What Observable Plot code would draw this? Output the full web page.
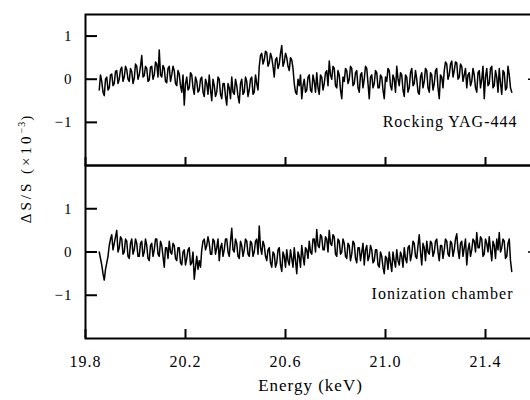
<!DOCTYPE html>
<html><head><meta charset="utf-8">
<script src="https://cdn.jsdelivr.net/npm/d3@7"></script>
<script src="https://cdn.jsdelivr.net/npm/@observablehq/plot@0.6"></script>
<style>
html,body{margin:0;padding:0;background:#fff;overflow:hidden;}
#chart{position:relative;width:530px;height:400px;font-family:'Liberation Serif','DejaVu Serif',serif;color:#000;}
#chart svg{position:absolute;left:0;}
#ytitle{position:absolute;left:25px;top:168px;transform:translate(-50%,-50%) rotate(-90deg);white-space:nowrap;font-size:15px;letter-spacing:3px;line-height:1;}
#ytitle sup{font-size:10px;letter-spacing:1px;}
</style></head><body><div id="chart"><div id="ytitle">ΔS/S (×10<sup>−3</sup>)</div></div>
<script>
// ---- data ----
const energyStart = 19.855;   // keV, first sample
const energyStep = 0.005;     // keV per sample
const rockingYAG = [
 -0.25,0.1,-0.05,-0.3,-0.38,0.0,0.05,-0.25,-0.2,0.1,0.12,-0.15,-0.1,0.18,0.2,-0.1,0.0,0.22,0.28,-0.05,
 0.05,0.3,0.22,0.0,-0.05,0.25,0.18,-0.1,0.02,0.35,0.3,0.0,0.1,0.3,0.55,0.05,0.08,0.3,0.25,-0.05,
 -0.02,0.28,0.3,0.0,0.1,0.4,0.35,0.05,0.68,0.1,0.05,0.32,0.25,-0.05,-0.08,0.25,0.3,-0.05,0.1,0.3,
 0.2,-0.1,-0.15,0.2,0.12,-0.15,-0.3,0.1,-0.6,-0.1,0.05,-0.25,-0.2,0.15,0.1,-0.2,-0.35,0.05,-0.05,-0.3,
 -0.25,0.0,0.05,-0.3,-0.4,0.0,-0.1,-0.35,0.1,-0.25,-0.5,0.0,-0.15,-0.4,-0.3,0.05,0.0,-0.35,-0.45,-0.1,
 -0.1,-0.4,-0.6,-0.1,-0.2,-0.45,0.05,-0.3,-0.35,0.0,-0.15,-0.4,-0.55,-0.1,0.0,-0.35,-0.3,0.05,-0.05,-0.4,
 -0.25,0.0,0.05,-0.35,-0.3,0.1,-0.1,-0.25,0.3,0.55,0.6,0.35,0.45,0.65,0.62,0.3,0.38,0.6,0.5,0.3,
 0.05,0.45,0.5,0.25,0.35,0.6,0.78,0.3,0.4,0.6,0.5,0.3,0.2,0.5,0.45,0.25,-0.1,-0.3,-0.35,0.0,
 -0.15,0.1,-0.45,-0.15,0.0,-0.3,-0.25,0.05,0.1,-0.25,-0.3,0.1,-0.05,-0.3,0.15,-0.2,-0.35,0.1,0.05,-0.25,
 -0.1,0.15,0.2,-0.15,0.42,0.1,0.0,0.3,0.25,-0.15,-0.2,0.2,0.1,-0.25,-0.45,0.05,-0.05,0.25,0.2,-0.1,
 0.0,0.3,0.25,-0.15,-0.1,0.15,0.2,-0.2,-0.3,0.1,0.15,-0.2,0.0,0.3,0.25,-0.1,-0.45,0.05,0.1,-0.2,
 -0.1,0.2,0.15,-0.2,-0.2,0.1,0.05,-0.25,-0.45,0.05,-0.05,0.25,0.2,-0.15,-0.25,0.1,0.0,-0.3,0.3,0.0,
 -0.15,0.15,0.1,-0.25,-0.4,0.1,0.05,-0.3,-0.2,0.15,0.25,-0.15,-0.1,0.2,0.0,-0.3,-0.35,0.05,0.15,-0.2,
 -0.05,0.25,0.2,-0.2,-0.3,0.15,0.1,-0.25,-0.1,0.2,0.25,-0.2,-0.45,0.1,0.05,-0.2,0.2,0.4,0.35,0.0,
 0.1,0.35,0.42,0.05,0.2,0.4,0.38,0.0,0.05,0.35,0.3,-0.05,0.1,0.25,-0.2,0.1,0.15,-0.15,-0.05,0.25,
 0.1,-0.2,-0.3,0.15,0.2,-0.2,0.0,0.3,-0.45,0.05,0.25,-0.15,-0.1,0.25,0.3,-0.2,-0.15,0.2,0.05,-0.3,
 0.25,-0.1,-0.35,0.2,0.15,-0.25,-0.2,0.3,0.1,-0.2,-0.3
];
const ionChamber = [
 0.0,-0.15,-0.3,-0.5,-0.65,-0.4,-0.25,-0.1,0.15,0.3,0.4,0.05,0.2,0.35,0.5,0.0,0.1,0.35,0.3,-0.05,
 0.0,0.3,0.25,-0.1,-0.15,0.2,0.3,-0.05,0.05,0.3,0.2,-0.1,-0.1,0.2,0.25,-0.1,0.0,0.3,0.15,-0.15,
 -0.2,0.15,0.2,-0.1,0.05,0.3,0.3,-0.05,-0.1,0.25,0.15,-0.1,-0.35,0.1,0.1,-0.15,0.25,0.0,-0.05,0.2,
 0.15,-0.15,-0.2,0.1,0.1,-0.25,-0.3,0.0,0.05,-0.3,-0.15,0.05,0.1,-0.3,-0.25,0.0,-0.63,-0.35,-0.1,-0.4,
 -0.2,-0.35,0.05,0.25,0.3,0.05,0.15,0.35,0.2,-0.05,-0.05,0.3,0.25,-0.05,0.1,0.3,-0.2,0.1,0.2,-0.1,
 0.05,0.3,0.3,0.0,-0.1,0.25,0.55,0.05,0.0,0.3,0.2,-0.1,-0.15,0.25,0.15,-0.1,0.05,0.3,0.25,-0.05,
 -0.1,0.25,0.2,-0.1,0.0,0.25,0.3,-0.05,0.6,0.1,-0.05,0.25,0.15,-0.1,-0.2,0.05,0.1,-0.25,-0.35,0.0,
 -0.05,-0.35,-0.25,0.05,0.1,-0.3,-0.45,0.0,-0.1,-0.35,0.05,-0.2,-0.3,0.05,-0.15,-0.35,0.1,-0.2,-0.5,0.0,
 -0.1,-0.35,0.15,-0.1,-0.3,0.1,0.05,-0.15,0.25,0.0,-0.05,0.3,0.3,0.0,0.52,0.15,0.1,0.4,0.35,0.05,
 0.05,0.35,0.3,0.0,0.5,0.2,0.15,0.4,0.35,-0.05,-0.1,0.3,0.25,-0.05,0.0,0.3,0.2,-0.1,-0.15,0.2,
 0.15,-0.2,-0.05,0.25,0.2,-0.15,-0.25,0.1,0.1,-0.2,0.0,0.2,-0.3,0.05,0.15,-0.2,-0.1,0.15,0.05,-0.25,
 -0.2,0.05,0.05,-0.3,-0.35,0.0,-0.1,-0.35,-0.5,-0.1,-0.15,-0.4,0.0,-0.25,-0.45,0.0,-0.2,-0.35,0.05,-0.2,
 -0.3,0.0,-0.1,-0.35,0.1,-0.15,-0.25,0.1,0.15,-0.2,-0.05,0.25,0.2,-0.1,-0.15,0.15,0.4,0.0,-0.3,0.2,
 0.1,-0.2,0.25,0.0,-0.05,0.25,0.2,-0.1,0.0,0.25,0.3,0.0,-0.2,0.15,0.15,-0.15,0.05,0.3,0.25,-0.05,
 -0.1,0.25,0.2,-0.1,0.05,0.3,0.42,0.05,-0.15,0.2,0.25,-0.1,0.1,0.3,-0.3,0.05,0.2,-0.1,0.05,0.3,
 0.25,0.0,0.45,0.1,0.1,0.35,0.3,-0.1,-0.05,0.3,0.2,0.0,0.35,0.05,-0.2,0.25,0.15,-0.15,0.3,0.05,
 0.45,0.0,0.1,0.3,0.25,-0.15,-0.1,0.2,0.3,-0.2,-0.45
];
const panelLabels = ["Rocking YAG-444", "Ionization chamber"];
const xDomain = [19.8, 21.6];
const xTicks = [19.8, 20.2, 20.6, 21.0, 21.4];
const yTicks = [-1, 0, 1];
const rightTicks = [0];
const topYDomain = [-2, 1.5];
const bottomYDomain = [-2, 2];
const xTitle = "Energy (keV)";

// ---- build tables ----
const toRows = vals => vals.map((v, i) => ({energy: energyStart + i * energyStep, value: v}));
const topData = toRows(rockingYAG);
const bottomData = toRows(ionChamber);

const fontFamily = "'Liberation Serif', 'DejaVu Serif', serif";
const yFmt = d => d < 0 ? "\u2212" + Math.abs(d) : String(d);
const baseStyle = {background: "transparent", fontFamily, color: "black", letterSpacing: "1px", overflow: "hidden"};

const topPlot = Plot.plot({
  width: 530, height: 170, marginTop: 14, marginBottom: 5, marginLeft: 85, marginRight: -5,
  style: baseStyle,
  x: {domain: xDomain},
  y: {domain: topYDomain},
  marks: [
    Plot.line(topData, {x: "energy", y: "value", stroke: "black", strokeWidth: 1.5}),
    Plot.axisY(yTicks, {anchor: "left", tickSize: -12, tickPadding: 25, tickFormat: yFmt, strokeWidth: 2, fontSize: 15, label: null}),
    Plot.axisY(rightTicks, {anchor: "right", tickSize: -8, tickFormat: () => "", strokeWidth: 1.5, label: null}),
    Plot.axisX(xTicks, {anchor: "bottom", tickSize: -8, tickFormat: () => "", strokeWidth: 2, label: null}),
    Plot.frame({strokeWidth: 2}),
    Plot.text([panelLabels[0]], {frameAnchor: "bottom-right", dx: -18, dy: -39, textAnchor: "end", fontSize: 16})
  ]
});
topPlot.style.top = "0px";

const bottomPlot = Plot.plot({
  width: 530, height: 245, marginTop: 10, marginBottom: 62, marginLeft: 85, marginRight: -5,
  style: baseStyle,
  x: {domain: xDomain},
  y: {domain: bottomYDomain},
  marks: [
    Plot.line(bottomData, {x: "energy", y: "value", stroke: "black", strokeWidth: 1.5}),
    Plot.axisY(yTicks, {anchor: "left", tickSize: -12, tickPadding: 25, tickFormat: yFmt, strokeWidth: 2, fontSize: 15, label: null}),
    Plot.axisY(rightTicks, {anchor: "right", tickSize: -8, tickFormat: () => "", strokeWidth: 1.5, label: null}),
    Plot.axisX(xTicks, {anchor: "bottom", tickSize: -9, tickPadding: 26, tickFormat: d3.format(".1f"), strokeWidth: 2, fontSize: 16, label: null}),
    Plot.frame({strokeWidth: 2}),
    Plot.text([panelLabels[1]], {frameAnchor: "bottom-right", dx: -22, dy: -40, textAnchor: "end", fontSize: 16}),
    Plot.text([xTitle], {frameAnchor: "bottom", dy: 52, fontSize: 17})
  ]
});
bottomPlot.style.top = "155px";

const chart = document.getElementById("chart");
chart.appendChild(topPlot);
chart.appendChild(bottomPlot);
</script>
</body></html>
